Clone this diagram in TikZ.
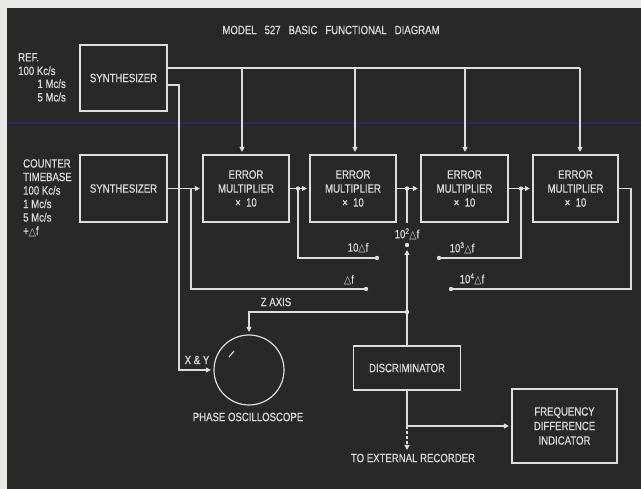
\documentclass[tikz,border=0pt]{standalone}
\usepackage{fontspec}
\setmainfont{Liberation Sans}[FakeStretch=0.8,FakeBold=0.6]
\newfontfamily\symfont{DejaVu Sans}[FakeStretch=0.85]
\usetikzlibrary{arrows.meta}
\definecolor{bgdark}{RGB}{40,40,40}
\definecolor{paper}{RGB}{232,232,230}
\definecolor{wire}{RGB}{222,222,222}
\definecolor{ink}{RGB}{218,218,218}
\definecolor{artblue}{RGB}{38,44,105}
\newcommand{\dlt}{{\symfont\fontsize{11}{11}\selectfont △}}
\begin{document}
\begin{tikzpicture}[x=1pt,y=-1pt,
  every node/.style={text=ink, font=\fontsize{12}{13.5}\selectfont, inner sep=0pt},
  box/.style={draw=wire, line width=1.2pt, align=center},
  wire/.style={draw=wire, line width=1.2pt},
  dot/.style={fill=wire, draw=none},
  arr/.style={-{Triangle[length=5pt,width=5pt]}, shorten >=2.5pt},
  emtext/.style={font=\fontsize{12}{14}\selectfont}]
\useasboundingbox (0,0) rectangle (641,489);
\fill[paper] (0,0) rectangle (641,489);
\fill[bgdark] (7,8) rectangle (641,489);
\draw[artblue, line width=1.5pt] (7,123) -- (641,123);

% title
\node (title) at (331,30) {MODEL\hspace{8pt}527\hspace{8pt}BASIC\hspace{8pt}FUNCTIONAL\hspace{8pt}DIAGRAM};

% input labels
\node[align=left, anchor=north west] (ref1) at (18,53) {REF.\\100 Kc/s};
\node[align=right, anchor=north east] (ref2) at (66,79) {1 Mc/s\\5 Mc/s};
\node[align=left, anchor=north west] (ctb) at (23,159) {COUNTER\\TIMEBASE\\100 Kc/s\\1 Mc/s\\5 Mc/s\\+\dlt f};

% boxes
\node[box, minimum width=87pt, minimum height=66pt] (synA) at (123.5,78) {SYNTHESIZER};
\node[box, minimum width=87pt, minimum height=67pt] (synB) at (123.5,188.5) {SYNTHESIZER};
\node[box, emtext, minimum width=86pt, minimum height=67pt] (em1) at (246,188.5) {ERROR\\MULTIPLIER\\× \ 10};
\node[box, emtext, minimum width=86pt, minimum height=67pt] (em2) at (353,188.5) {ERROR\\MULTIPLIER\\× \ 10};
\node[box, emtext, minimum width=87pt, minimum height=67pt] (em3) at (464.5,188.5) {ERROR\\MULTIPLIER\\× \ 10};
\node[box, emtext, minimum width=85pt, minimum height=67pt] (em4) at (575.5,188.5) {ERROR\\MULTIPLIER\\× \ 10};
\node[box, minimum width=107pt, minimum height=44pt] (disc) at (407,368) {DISCRIMINATOR};
\node[box, minimum width=105pt, minimum height=74pt, font=\fontsize{12}{14.5}\selectfont] (fdi) at (564.5,426) {FREQUENCY\\DIFFERENCE\\INDICATOR};
\node[draw=wire, line width=1.2pt, circle, minimum size=70pt] (scope) at (249,370) {};
\draw[wire] (229,357) -- (234,351);

% coordinates
\coordinate (busR) at (580,68);
\coordinate (jd) at (191,188.5);
\coordinate (j1) at (298,188.5);
\coordinate (j2) at (407,188.5);
\coordinate (j2b) at (407,223);
\coordinate (j3) at (521,188.5);
\coordinate (tDf) at (366,289);
\coordinate (t1) at (377,258);
\coordinate (t2) at (407,245);
\coordinate (t3) at (439,258);
\coordinate (t4) at (451,289);
\coordinate (sel) at (407,250);
\coordinate (jz) at (407,312);
\coordinate (jr) at (407,426);
\coordinate (rec) at (407,450);

% reference bus
\draw[wire] ([yshift=10pt]synA.east) -- (busR);
\draw[wire,arr] (busR) -- (580,0 |- em4.north);
\foreach \xx in {242,355,465}
  \draw[wire,arr] (\xx,68) -- (\xx,0 |- em1.north);

% X & Y
\draw[wire,arr] ([yshift=-7pt]synA.east) -| (179,0 |- scope.west) -- (scope.west);

% chain
\draw[wire,arr] (synB.east) -- (em1.west);
\draw[wire,arr] (em1.east) -- (em2.west);
\draw[wire,arr] (em2.east) -- (em3.west);
\draw[wire,arr] (em3.east) -- (em4.west);
\draw[wire] (jd) |- (tDf);
\draw[wire] (j1) |- (t1);
\draw[wire] (j2) -- (j2b);
\draw[wire] (j3) |- (t3);
\draw[wire] (em4.east) -| (631,289) -- (t4);

% dots
\foreach \p in {j1,j2,j3,jz,tDf,t1,t2,t3,t4}
  \fill[dot] (\p) circle (2.2pt);

% discriminator
\draw[wire,arr,shorten >=0pt] (disc.north) -- (sel);
\draw[wire,arr] (jz) -| (scope.north);
\draw[wire] (disc.south) -- (jr);
\draw[wire,arr] (jr) -- (fdi.west);
\draw[wire,dashed,dash pattern=on 3pt off 2pt,arr,shorten >=0pt] (jr) -- (rec);

% labels
\node (l0) at (349,280) {\dlt f};
\node (l1) at (358,248) {10\dlt f};
\node (l2) at (407,234) {10\textsuperscript{2}\dlt f};
\node (l3) at (462,248) {10\textsuperscript{3}\dlt f};
\node (l4) at (472,279) {10\textsuperscript{4}\dlt f};
\node (lxy) at (197,360) {X \& Y};
\node (lz) at (276,302) {Z AXIS};
\node (lps) at (248,417) {PHASE OSCILLOSCOPE};
\node (lrec) at (413,458) {TO EXTERNAL RECORDER};
\end{tikzpicture}
\end{document}
